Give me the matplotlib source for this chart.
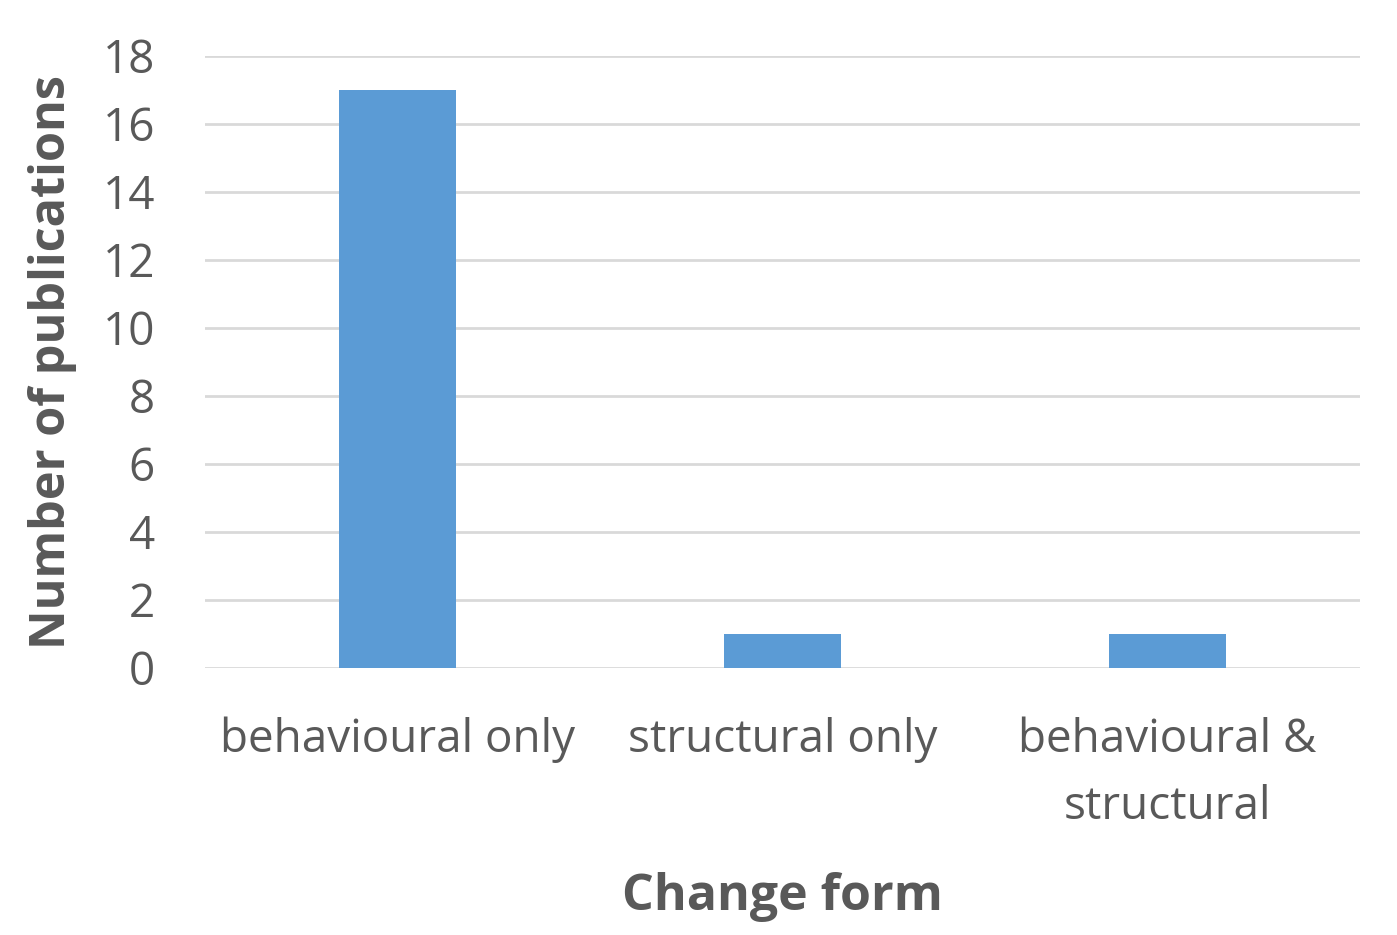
import numpy as np
import matplotlib.pyplot as plt

categories = ['behavioural only', 'structural only', 'behavioural &\nstructural']
publications = [17, 1, 1]
yticks = [0, 2, 4, 6, 8, 10, 12, 14, 16, 18]

plt.rcParams['font.family'] = ['Open Sans', 'DejaVu Sans']

fig = plt.figure(figsize=(13.97, 9.35), dpi=100)
ax = fig.add_axes([0.1467, 0.2856, 0.8268, 0.6546])

x = np.arange(len(categories))
ax.bar(x, publications, width=0.306, color='#5B9BD5', zorder=3)

ax.set_xlim(-0.5, len(categories) - 0.5)
ax.set_ylim(0, 18)
ax.set_yticks(yticks)
ax.set_xticks(x)
ax.set_xticklabels(categories, fontsize=33, color='#595959', linespacing=1.62)
ax.tick_params(axis='y', labelsize=33, labelcolor='#595959', length=0, pad=36)
ax.tick_params(axis='x', length=0, pad=35)
ax.grid(axis='y', color='#D9D9D9', linewidth=2, zorder=0)
for s in ax.spines.values():
    s.set_visible(False)

ax.set_ylabel('Number of publications', fontsize=35, fontweight='bold', color='#595959', labelpad=18)
ax.set_xlabel('Change form', fontsize=36, fontweight='bold', color='#595959', labelpad=30)

plt.savefig('out.png', dpi=100)
